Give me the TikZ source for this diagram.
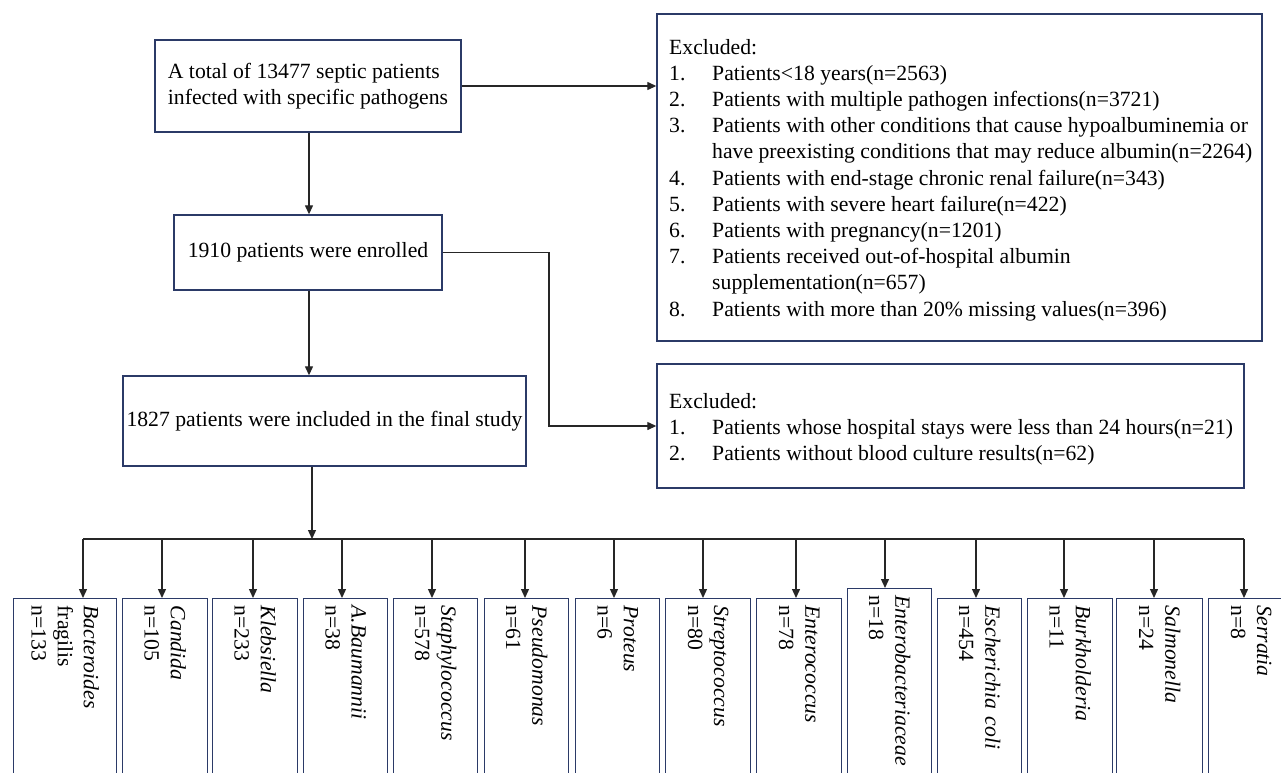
\documentclass[tikz,border=0pt]{standalone}
\usepackage{fontspec}
\setmainfont{Liberation Serif}
\usetikzlibrary{arrows.meta}
\definecolor{boxblue}{HTML}{2B3A67}
\definecolor{lineblack}{HTML}{262626}
\begin{document}
\begin{tikzpicture}[x=1pt,y=-1pt,
  box/.style={draw=boxblue, line width=1.4pt, inner sep=0pt, font=\fontsize{21.7}{26.2}\selectfont},
  txt/.style={inner sep=0pt, align=left, anchor=west, font=\fontsize{21.7}{26.2}\selectfont},
  arr/.style={draw=lineblack, line width=1.3pt, -{Triangle[length=9pt,width=8pt]}},
  ln/.style={draw=lineblack, line width=1.3pt},
  sbox/.style={box, rotate=-90, anchor=south west, minimum width=230pt, text width=216pt, align=left, inner xsep=7pt, inner ysep=0pt}
]
\useasboundingbox (0,0) rectangle (1281,772);
\clip (0,0) rectangle (1281,772);

% main boxes
\node[box, minimum width=306pt, minimum height=92pt, align=left] (A) at (308,86)
  {A total of 13477 septic patients\\infected with specific pathogens};
\node[box, minimum width=268pt, minimum height=75pt] (B) at (308,252.5)
  {1910 patients were enrolled};
\node[box, minimum width=403pt, minimum height=90pt] (C) at (324.5,421)
  {1827 patients were included in the final study};

\node[box, minimum width=605pt, minimum height=327pt] (E1) at (959.5,177.5) {};
\node[txt] (E1t) at (669,180)
  {Excluded:\\
   \makebox[43pt][l]{1.}Patients<18 years(n=2563)\\
   \makebox[43pt][l]{2.}Patients with multiple pathogen infections(n=3721)\\
   \makebox[43pt][l]{3.}Patients with other conditions that cause hypoalbuminemia or\\
   \hspace*{43pt}have preexisting conditions that may reduce albumin(n=2264)\\
   \makebox[43pt][l]{4.}Patients with end-stage chronic renal failure(n=343)\\
   \makebox[43pt][l]{5.}Patients with severe heart failure(n=422)\\
   \makebox[43pt][l]{6.}Patients with pregnancy(n=1201)\\
   \makebox[43pt][l]{7.}Patients received out-of-hospital albumin\\
   \hspace*{43pt}supplementation(n=657)\\
   \makebox[43pt][l]{8.}Patients with more than 20\% missing values(n=396)};

\node[box, minimum width=587pt, minimum height=124pt] (E2) at (950.5,426) {};
\node[txt] (E2t) at (669,429)
  {Excluded:\\
   \makebox[43pt][l]{1.}Patients whose hospital stays were less than 24 hours(n=21)\\
   \makebox[43pt][l]{2.}Patients without blood culture results(n=62)};

% connectors
\coordinate (spine) at (309,0);
\coordinate (elbow) at (549,340);
\coordinate (bus) at (312,539);
\coordinate (busL) at (83,539);
\coordinate (busR) at (1244,539);

\draw[arr] (A.south -| spine) -- (B.north -| spine);
\draw[arr] (B.south -| spine) -- (C.north -| spine);
\draw[arr] (A.east) -- (A.east -| E1.west);
\draw[arr] (B.east) -| (elbow) |- (E2.west);
\draw[arr] (C.south -| bus) -- (bus);
\draw[ln] (busL) -- (busR);

% pathogen boxes
\foreach \n/\xa/\w/\top/\ax/\txt in {
  1/13/103/598/83/{\textit{Bacteroides}\\fragilis\\n=133},
  2/122/85/598/162/{\textit{Candida}\\n=105},
  3/212/85/598/253/{\textit{Klebsiella}\\n=233},
  4/303/84/598/342/{\textit{A.Baumannii}\\n=38},
  5/393/84/598/432/{\textit{Staphylococcus}\\n=578},
  6/484/84/598/525/{\textit{Pseudomonas}\\n=61},
  7/575/84/598/614/{\textit{Proteus}\\n=6},
  8/665/85/598/703/{\textit{Streptococcus}\\n=80},
  9/756/85/598/796/{\textit{Enterococcus}\\n=78},
  10/847/84/588/885/{\textit{Enterobacteriaceae}\\n=18},
  11/937/84/598/976/{\textit{Escherichia coli}\\n=454},
  12/1027/85/598/1064/{\textit{Burkholderia}\\n=11},
  13/1116/86/598/1154/{\textit{Salmonella}\\n=24},
  14/1208/85/598/1244/{\textit{Serratia}\\n=8}} {
  \node[sbox, minimum height=\w pt] (p\n) at (\xa,\top) {\txt};
  \coordinate (t\n) at (\ax,539);
  \draw[arr] (t\n) -- (t\n |- p\n.south west);
}
\end{tikzpicture}
\end{document}
